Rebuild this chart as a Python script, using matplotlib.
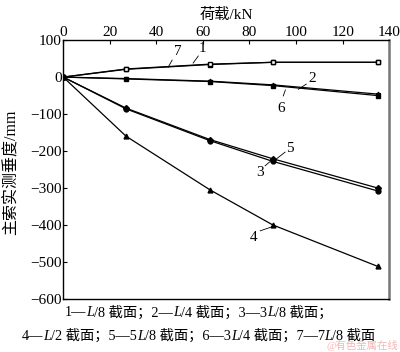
import matplotlib
matplotlib.use('Agg')
import matplotlib.pyplot as plt

plt.rcParams['font.family'] = ['Liberation Serif', 'Noto Sans CJK SC']

load = [0, 27, 63, 90, 135]
s1 = [0, 22, 35, 40, 40]
s7 = [0, 21, 34, 40, 40]
s2 = [0, -5, -12, -23, -50]
s6 = [0, -4, -11, -21, -46]
s3 = [0, -86, -172, -228, -308]
s5 = [0, -84, -169, -221, -300]
s4 = [0, -160, -305, -400, -512]

fig = plt.figure(figsize=(4.0, 3.52), dpi=100)
ax = fig.add_axes([0.158, 0.151, 0.815, 0.735])

kw = dict(color='black', lw=0.9, ms=3.5)
ax.plot(load, s7, marker='s', mfc='white', **kw)
ax.plot(load, s1, marker='s', mfc='white', **kw)
ax.plot(load, s2, marker='s', **kw)
ax.plot(load, s6, marker='*', **kw)
ax.plot(load, s3, marker='o', **kw)
ax.plot(load, s5, marker='D', ms=3, color='black', lw=0.9)
ax.plot(load, s4, marker='^', **kw)

ax.set_xlim(0, 140)
ax.set_ylim(-600, 100)
ax.set_xticks(range(0, 141, 20))
ax.set_yticks(range(-600, 101, 100))
ax.set_yticklabels(['\u2212600', '\u2212500', '\u2212400', '\u2212300', '\u2212200', '\u2212100', '0', '100'])
ax.xaxis.tick_top()
ax.xaxis.set_label_position('top')
ax.tick_params(direction='in', length=3, labelsize=11, pad=1)
ax.set_xlabel('荷载/kN', fontsize=11, labelpad=5)
ax.set_ylabel('主索实测垂度/mm', fontsize=11.5, va='center')
ax.yaxis.set_label_coords(-0.157, 0.49)
for sp in ax.spines.values():
    sp.set_linewidth(1.0)
ax.spines['right'].set_color('#777777')
ax.spines['right'].set_linewidth(1.8)

# curve labels with short leader lines
labels = [('7', 49.4, 70, (46.8, 46), (45.1, 27)),
          ('1', 60.0, 78, (58.0, 57), (55.8, 38)),
          ('2', 107.0, -5, (104.4, -19), (101.0, -33)),
          ('6', 93.6, -84, (94.5, -51), (95.4, -35)),
          ('5', 97.5, -192, (95.3, -203), (90.2, -228)),
          ('3', 84.6, -259, (86.7, -240), (89.7, -224)),
          ('4', 81.6, -435, (84.6, -416), (89.7, -405))]
for t, tx, ty, p0, p1 in labels:
    ax.text(tx, ty, t, fontsize=11, ha='center', va='center')
    ax.plot([p0[0], p1[0]], [p0[1], p1[1]], color='black', lw=0.6)

# caption, drawn piece by piece so that L can be italic
fig.canvas.draw()
rend = fig.canvas.get_renderer()

def caption(x, y, pieces):
    for s, it in pieces:
        t = fig.text(x, y, s, fontsize=10.3, ha='left', va='center',
                     style='italic' if it else 'normal')
        bb = t.get_window_extent(renderer=rend)
        x += bb.width / fig.bbox.width

line1 = [('1—', 0), ('L', 1), ('/8 截面；2—', 0), ('L', 1), ('/4 截面；3—3', 0), ('L', 1), ('/8 截面；', 0)]
line2 = [('4—', 0), ('L', 1), ('/2 截面；5—5', 0), ('L', 1), ('/8 截面；6—3', 0), ('L', 1),
         ('/4 截面；7—7', 0), ('L', 1), ('/8 截面', 0)]
caption(0.163, 0.113, line1)
caption(0.055, 0.045, line2)
fig.text(0.995, 0.002, '@有色金属在线', fontsize=7.5, color='#f4b6b6', ha='right', va='bottom')

fig.savefig('out.png', dpi=100)
